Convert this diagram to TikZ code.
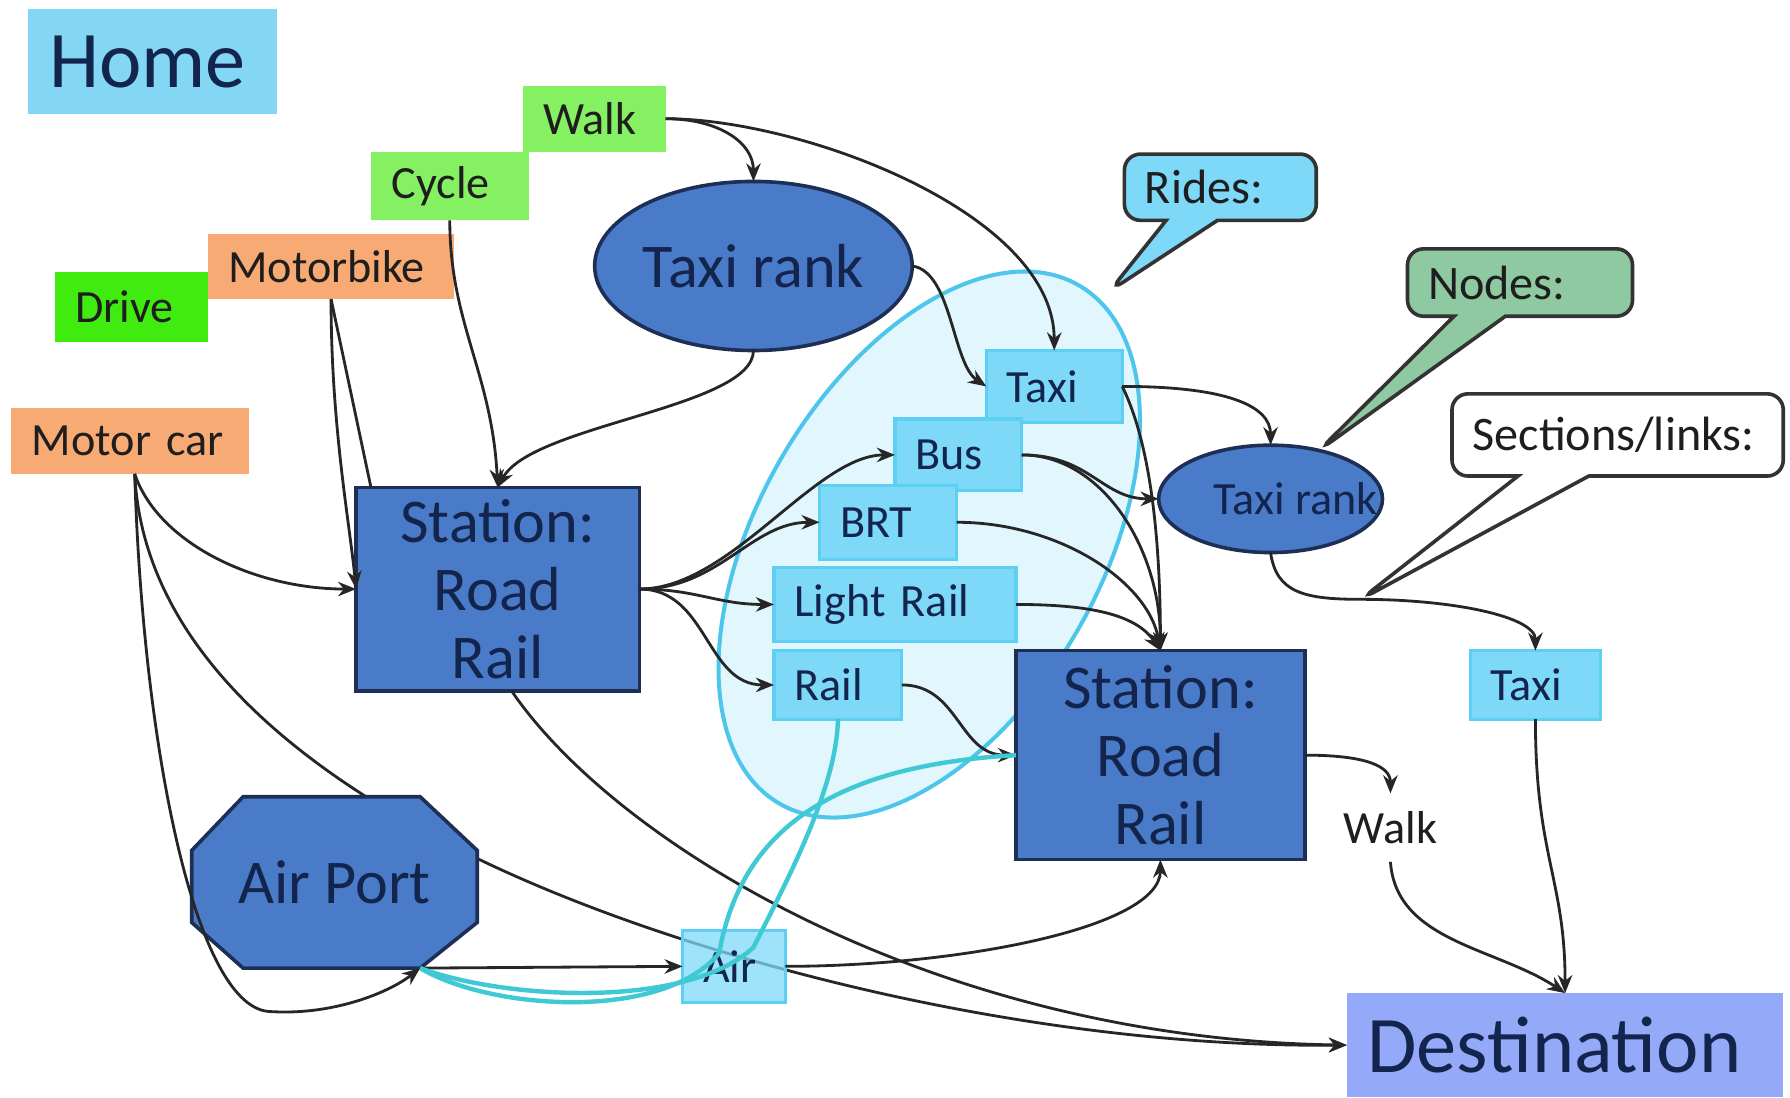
\documentclass[tikz,border=0pt]{standalone}
\usepackage{fontspec}
\setmainfont{Carlito}
\usetikzlibrary{shapes.geometric,shapes.callouts,arrows.meta}
\pgfdeclarelayer{back}
\pgfdeclarelayer{mid}
\pgfsetlayers{back,mid,main}
\definecolor{homeblue}{HTML}{84D6F5}
\definecolor{walkgreen}{HTML}{84F062}
\definecolor{drivegreen}{HTML}{40EC10}
\definecolor{carorange}{HTML}{F8AA74}
\definecolor{stationblue}{HTML}{4A7BC8}
\definecolor{stationedge}{HTML}{1E2F55}
\definecolor{ridecyan}{HTML}{7ED9F8}
\definecolor{rideedge}{HTML}{5CCFF2}
\definecolor{ellfill}{HTML}{E2F6FD}
\definecolor{elledge}{HTML}{4EC6EC}
\definecolor{nodesgreen}{HTML}{8FC9A2}
\definecolor{destblue}{HTML}{94AAF8}
\definecolor{cyanline}{HTML}{3FC9D4}
\definecolor{textdark}{HTML}{1E1E1E}
\definecolor{navytext}{HTML}{13244D}
\begin{document}
\begin{tikzpicture}[x=0.01cm,y=-0.01cm,
  every node/.style={inner sep=0pt, outer sep=0pt},
  sm/.style={font=\fontsize{11.5}{13.5}\selectfont, text=textdark},
  lb/.style={rectangle, align=left, inner xsep=0.18cm, sm},
  ridebox/.style={lb, fill=ridecyan, draw=rideedge, line width=0.8pt, text=navytext},
  bluenode/.style={fill=stationblue, draw=stationedge, line width=0.9pt, text=navytext, font=\fontsize{15.5}{17}\selectfont},
  conn/.style={draw=black!85, line width=0.7pt, -{Stealth[length=4.5pt,width=3.6pt]}},
  lineonly/.style={draw=black!85, line width=0.7pt},
  cy/.style={draw=cyanline, line width=1.1pt},
  call/.style={rectangle callout, draw=black!80, line width=0.9pt, rounded corners=4pt, align=left, inner xsep=0.18cm, font=\fontsize{12}{14}\selectfont, text=textdark}
]
\useasboundingbox (0,0) rectangle (1568,961);

% ---- nodes ----
\node[lb, fill=homeblue, text width=1.82cm, minimum height=0.92cm, font=\fontsize{20}{24}\selectfont, text=navytext] (home) at (134,54) {Home};
\node[lb, fill=walkgreen, text width=1.02cm, minimum height=0.60cm] (cycle) at (394,163) {Cycle};
\node[lb, fill=walkgreen, text width=0.89cm, minimum height=0.58cm] (walk) at (520.5,104) {Walk};
\node[lb, fill=drivegreen, text width=0.98cm, minimum height=0.62cm] (drive) at (115,269) {Drive};
\node[lb, fill=carorange, text width=1.80cm, minimum height=0.57cm] (mb) at (290,233.5) {Motorbike};
\node[lb, fill=carorange, text width=1.72cm, minimum height=0.58cm] (mc) at (114,386) {Motor car};

\node[bluenode, align=center, minimum width=2.48cm, minimum height=1.78cm] (st1) at (436,516) {Station:\\Road\\Rail};
\node[bluenode, align=center, minimum width=2.53cm, minimum height=1.83cm] (st2) at (1016.5,661.5) {Station:\\Road\\Rail};
\node[bluenode, ellipse, minimum width=2.78cm, minimum height=1.48cm] (trk) at (660,233) {Taxi rank};
\node[bluenode, ellipse, minimum width=1.96cm, minimum height=0.94cm, font=\fontsize{11.5}{13}\selectfont] (trk2) at (1113,437) {\makebox[0pt]{\hspace{0.44cm}Taxi rank}};

\node[ridebox, text width=0.83cm, minimum height=0.63cm] (taxi) at (923.5,338.5) {Taxi};
\node[ridebox, text width=0.75cm, minimum height=0.63cm] (bus) at (839.5,398.5) {Bus};
\node[ridebox, text width=0.84cm, minimum height=0.65cm] (brt) at (778,457.5) {BRT};
\node[ridebox, text width=1.76cm, minimum height=0.65cm] (lr) at (784,529.5) {Light Rail};
\node[ridebox, text width=0.76cm, minimum height=0.60cm] (rail) at (734,600) {Rail};
\node[ridebox, fill opacity=0.75, text opacity=1, text width=0.54cm, minimum height=0.63cm] (air) at (643,846.5) {Air};
\node[ridebox, text width=0.78cm, minimum height=0.60cm] (taxir) at (1345,600) {Taxi};

\node[sm, minimum height=0.6cm] (walkb) at (1218,725) {Walk};
\node[lb, fill=destblue, text width=3.46cm, minimum height=0.91cm, font=\fontsize{20}{24}\selectfont, text=navytext] (dest) at (1371,915.5) {Destination};
\node[minimum width=2.5cm, minimum height=1.5cm, font=\fontsize{15.5}{17}\selectfont, text=navytext] (ap) at (293,773) {Air Port};

\node[call, fill=ridecyan, text width=1.32cm, minimum height=0.58cm, callout absolute pointer={(972,255)}, callout pointer width=0.45cm] (rides) at (1069,164) {Rides:};
\node[call, fill=nodesgreen, text width=1.61cm, minimum height=0.59cm, callout absolute pointer={(trk2.45)}, callout pointer width=0.45cm] (nodescall) at (1331.5,247.5) {Nodes:};
\coordinate (sl) at (1192,525);
\node[call, fill=white, text width=2.54cm, minimum height=0.72cm, callout absolute pointer={(sl)}, callout pointer width=0.62cm] (secs) at (1417,381) {\mbox{Sections/links:}};

\coordinate (apc) at ([xshift=-0.5cm]ap.south east);

% ---- background: rides ellipse, hidden line ----
\begin{pgfonlayer}{back}
\node[draw=elledge, fill=ellfill, line width=1pt, ellipse, minimum width=5.24cm, minimum height=3.0cm, rotate=60] (rideell) at (814,477) {};
\draw[conn] ([xshift=0.04cm]mc.south) .. controls (125,560) and (250,670) .. (418,752) .. controls (600,840) and (900,918) .. (dest.west);
\end{pgfonlayer}

% ---- octagon of the airport ----
\begin{pgfonlayer}{mid}
\filldraw[fill=stationblue, draw=stationedge, line width=0.9pt]
 ([xshift=0.45cm]ap.north west) -- ([xshift=-0.5cm]ap.north east) -- ([yshift=-0.47cm]ap.north east) -- ([yshift=0.4cm]ap.south east) -- ([xshift=-0.5cm]ap.south east) -- ([xshift=0.45cm]ap.south west) -- ([yshift=0.4cm]ap.south west) -- ([yshift=-0.47cm]ap.north west) -- cycle;
\end{pgfonlayer}

% ---- connectors ----
\draw[conn] (walk.east) .. controls +(45,0) and +(0,-35) .. (trk.north);
\draw[conn] (walk.east) .. controls +(120,0) and +(0,-120) .. (taxi.north);
\draw[conn] (cycle.south) .. controls +(0,90) and +(-5,-100) .. (st1.north);
\draw[conn] (trk.south) .. controls +(0,50) and +(30,-55) .. (st1.north);
\draw[conn] (trk.east) .. controls +(35,5) and +(-30,-20) .. (taxi.west);
\draw[conn] (mb.south) .. controls +(0,110) and +(-6,-60) .. (st1.west);
\draw[lineonly] (mb.south) -- ([xshift=0.13cm]st1.north west);
\draw[conn] ([xshift=0.04cm]mc.south) .. controls +(20,60) and +(-90,0) .. (st1.west);
\draw[conn] ([xshift=0.04cm]mc.south) .. controls (125,650) and (170,880) .. (235,886) .. controls (290,890) and (340,870) .. (apc);
\draw[conn] (apc) -- (air.west);
\draw[conn] (air.east) .. controls +(150,0) and +(0,60) .. (st2.south);
\draw[conn] ([xshift=0.12cm]st1.south) .. controls (540,740) and (820,910) .. (dest.west);
\draw[conn] (st1.east) .. controls +(80,0) and +(-70,0) .. (bus.west);
\draw[conn] (st1.east) .. controls +(70,0) and +(-60,0) .. (brt.west);
\draw[conn] (st1.east) .. controls +(50,0) and +(-50,0) .. (lr.west);
\draw[conn] (st1.east) .. controls +(60,0) and +(-60,0) .. (rail.west);
\draw[conn] (taxi.east) .. controls +(90,0) and +(0,-35) .. (trk2.north);
\draw[conn] (taxi.east) .. controls +(20,40) and +(0,-120) .. (st2.north);
\draw[conn] (bus.east) .. controls +(60,0) and +(-50,0) .. (trk2.west);
\draw[conn] (bus.east) .. controls +(70,0) and +(0,-90) .. (st2.north);
\draw[conn] (brt.east) .. controls +(90,0) and +(-10,-60) .. (st2.north);
\draw[conn] (lr.east) .. controls +(70,0) and +(-20,-30) .. (st2.north);
\draw[conn] (rail.east) .. controls +(50,0) and +(-50,0) .. (st2.west);
\draw[conn] (trk2.south) .. controls +(5,35) and +(-50,0) .. (sl) .. controls +(80,0) and +(0,-30) .. (taxir.north);
\draw[conn] (st2.east) .. controls +(50,0) and +(0,-25) .. (walkb.north);
\draw[conn] (walkb.south) .. controls +(5,70) and +(-60,-40) .. (dest.north);
\draw[conn] (taxir.south) .. controls +(0,120) and +(0,-100) .. (dest.north);

% ---- cyan air links ----
\draw[cy] (apc) .. controls (430,885) and (580,895) .. (630,835) .. controls (650,720) and (740,670) .. (st2.west);
\draw[cy] (apc) .. controls (440,875) and (600,885) .. (660,830) .. controls (690,770) and (733,690) .. (rail.south);
\end{tikzpicture}
\end{document}
